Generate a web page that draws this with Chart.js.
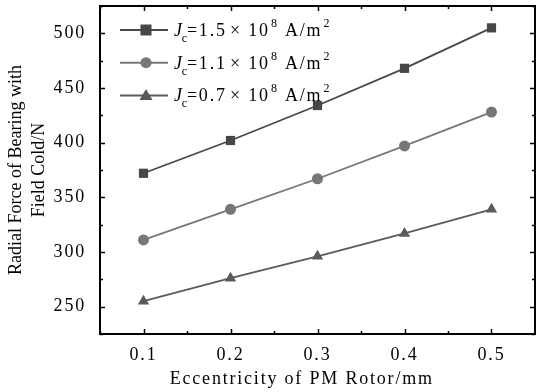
<!DOCTYPE html>
<html>
<head>
<meta charset="utf-8">
<script src="https://cdn.jsdelivr.net/npm/chart.js@4/dist/chart.umd.min.js"></script>
<style>
  html, body { margin: 0; padding: 0; background: #fff; }
  #wrap { width: 536px; height: 392px; }
</style>
</head>
<body>
<div id="wrap"><canvas id="c"></canvas></div>
<script>
// chart data
const eccentricity = [0.1, 0.2, 0.3, 0.4, 0.5];
const force15 = [372, 402, 434, 468, 505];
const force11 = [311, 339, 367, 397, 428];
const force07 = [255, 276, 296, 317, 339];
const xTickValues = [0.1, 0.2, 0.3, 0.4, 0.5];
const yTickValues = [250, 300, 350, 400, 450, 500];
const legendValues = ['1.5', '1.1', '0.7'];

const FONT = '"Liberation Serif", "Times New Roman", serif';
const SPACING = '1.8px';

function toPoints(ys) {
    return eccentricity.map((x, i) => ({ x: x, y: ys[i] }));
}

function drawMarker(ctx, style, x, y, color) {
    ctx.fillStyle = color;
    ctx.beginPath();
    if (style === 'rect') {
        ctx.rect(x - 5.5, y - 5.5, 11, 11);
    } else if (style === 'circle') {
        ctx.arc(x, y, 5.5, 0, Math.PI * 2);
    } else {
        ctx.moveTo(x, y - 6.5);
        ctx.lineTo(x + 6.5, y + 4.5);
        ctx.lineTo(x - 6.5, y + 4.5);
        ctx.closePath();
    }
    ctx.fill();
}

// wide letter spacing for tick labels, x title and legend (y title stays normal)
const spacingPlugin = {
    id: 'spacing',
    beforeDraw(chart) { chart.ctx.letterSpacing = '0px'; },
    afterDatasetsDraw(chart) { chart.ctx.letterSpacing = SPACING; }
};

// frame, inward ticks and the legend with sub/superscripts
const framePlugin = {
    id: 'frame',
    afterDraw(chart) {
        const ctx = chart.ctx;
        const a = chart.chartArea;
        const xs = chart.scales.x;
        const ys = chart.scales.y;
        ctx.save();
        ctx.strokeStyle = '#000';
        ctx.lineWidth = 1.5;

        ctx.beginPath();
        for (let v = 0.05; v <= 0.551; v += 0.05) {
            const px = Math.round(xs.getPixelForValue(v)) + 0.5;
            const major = Math.abs(Math.round(v * 10) - v * 10) < 1e-6;
            const len = major ? 5 : 3;
            ctx.moveTo(px, a.bottom); ctx.lineTo(px, a.bottom - len);
            ctx.moveTo(px, a.top); ctx.lineTo(px, a.top + len);
        }
        for (let v = 225; v <= 525; v += 25) {
            const py = Math.round(ys.getPixelForValue(v)) + 0.5;
            const major = v % 50 === 0;
            const len = major ? 5 : 3;
            ctx.moveTo(a.left, py); ctx.lineTo(a.left + len, py);
            ctx.moveTo(a.right, py); ctx.lineTo(a.right - len, py);
        }
        ctx.stroke();

        ctx.lineWidth = 2;
        ctx.strokeRect(a.left, a.top, a.right - a.left, a.bottom - a.top);

        // legend
        ctx.letterSpacing = SPACING;
        chart.data.datasets.forEach((ds, i) => {
            const y = a.top + 24 + i * 32.7;
            const x0 = a.left + 20;
            ctx.strokeStyle = ds.borderColor;
            ctx.lineWidth = 2;
            ctx.beginPath();
            ctx.moveTo(x0, y); ctx.lineTo(x0 + 48, y);
            ctx.stroke();
            drawMarker(ctx, ds.pointStyle, x0 + 26, y, ds.pointBackgroundColor);

            ctx.fillStyle = '#000';
            ctx.textBaseline = 'alphabetic';
            const base = y + 6;
            let tx = x0 + 54;
            ctx.font = 'italic 18px ' + FONT;
            ctx.fillText('J', tx, base);
            tx += ctx.measureText('J').width - 2;
            ctx.font = '12px ' + FONT;
            ctx.fillText('c', tx, base + 6);
            tx += ctx.measureText('c').width - 2;
            ctx.font = '18px ' + FONT;
            const t1 = '=' + legendValues[i] + '\u200a\u00d7 10';
            ctx.fillText(t1, tx, base);
            tx += ctx.measureText(t1).width + 1;
            ctx.font = '12px ' + FONT;
            ctx.fillText('8', tx, base - 9);
            tx += ctx.measureText('8').width;
            ctx.font = '18px ' + FONT;
            ctx.fillText(' A/m', tx, base);
            tx += ctx.measureText(' A/m').width + 1;
            ctx.font = '12px ' + FONT;
            ctx.fillText('2', tx, base - 9);
        });
        ctx.restore();
    }
};

const series = [
    { data: force15, color: '#474747', style: 'rect' },
    { data: force11, color: '#777777', style: 'circle' },
    { data: force07, color: '#5a5a5a', style: 'triangle' }
];

new Chart(document.getElementById('c'), {
    type: 'line',
    data: {
        datasets: series.map(s => ({
            data: toPoints(s.data),
            borderColor: s.color,
            backgroundColor: s.color,
            pointBackgroundColor: s.color,
            pointBorderColor: s.color,
            pointBorderWidth: 0,
            pointStyle: s.style,
            pointRadius: s.style === 'circle' ? 5.5 : 6.5,
            borderWidth: 1.8,
            tension: 0
        }))
    },
    options: {
        responsive: true,
        maintainAspectRatio: false,
        animation: false,
        layout: { autoPadding: false, padding: { top: 6, right: 1, left: 0, bottom: 0 } },
        plugins: {
            legend: { display: false },
            tooltip: { enabled: false }
        },
        scales: {
            x: {
                type: 'linear',
                min: 0.05,
                max: 0.55,
                afterBuildTicks: axis => { axis.ticks = xTickValues.map(v => ({ value: v })); },
                afterFit: axis => {
                    axis.height = 58;
                    axis.paddingLeft = 0;
                    axis.paddingRight = 0;
                },
                grid: { display: false, z: 1 },
                border: { display: false },
                ticks: {
                    z: 1,
                    color: '#000',
                    padding: 2,
                    maxRotation: 0,
                    font: { family: FONT, size: 18 },
                    callback: v => v.toFixed(1)
                },
                title: {
                    display: true,
                    text: 'Eccentricity of PM Rotor/mm\u00a0\u00a0\u00a0\u00a0\u00a0',
                    color: '#000',
                    padding: { top: 0, bottom: 2 },
                    font: { family: FONT, size: 18 }
                }
            },
            y: {
                min: 225,
                max: 525,
                afterBuildTicks: axis => { axis.ticks = yTickValues.map(v => ({ value: v })); },
                afterFit: axis => {
                    axis.width = 100;
                    axis.paddingTop = 0;
                    axis.paddingBottom = 0;
                },
                grid: { display: false, z: -1 },
                border: { display: false },
                ticks: {
                    z: 1,
                    color: '#000',
                    padding: 6,
                    font: { family: FONT, size: 18 }
                },
                title: {
                    display: true,
                    text: ['Radial Force of Bearing with', 'Field Cold/N'],
                    color: '#000',
                    padding: { top: 4, bottom: 0 },
                    font: { family: FONT, size: 18, lineHeight: 1.32 }
                }
            }
        }
    },
    plugins: [spacingPlugin, framePlugin]
});
</script>
</body>
</html>
